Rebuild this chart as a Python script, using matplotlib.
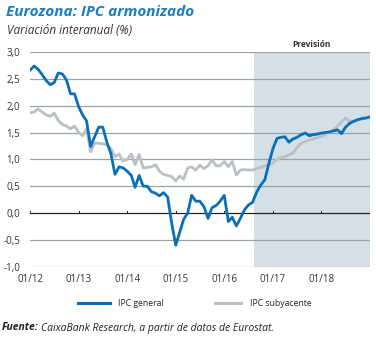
import numpy as np
import pandas as pd
import matplotlib
matplotlib.use('Agg')
import matplotlib.pyplot as plt
from matplotlib.lines import Line2D

# Monthly data, 01/2012 - 01/2019 (%, year-on-year)
ipc_general = [2.66, 2.74, 2.68, 2.58, 2.47, 2.39, 2.43, 2.61, 2.59, 2.48, 2.22, 2.22,
               1.98, 1.82, 1.72, 1.24, 1.42, 1.60, 1.60, 1.32, 1.10, 0.72, 0.86, 0.84,
               0.78, 0.70, 0.48, 0.70, 0.50, 0.50, 0.40, 0.37, 0.32, 0.38, 0.30, -0.18,
               -0.60, -0.35, -0.12, 0.00, 0.33, 0.22, 0.22, 0.12, -0.10, 0.10, 0.14, 0.22,
               0.33, -0.16, -0.08, -0.24, -0.10, 0.06, 0.15, 0.20, 0.39, 0.52, 0.62, 0.92,
               1.20, 1.39, 1.41, 1.42, 1.32, 1.38, 1.41, 1.46, 1.49, 1.44, 1.46, 1.47,
               1.49, 1.50, 1.51, 1.53, 1.55, 1.48, 1.60, 1.67, 1.71, 1.74, 1.76, 1.77,
               1.79]
ipc_subyacente = [1.87, 1.88, 1.94, 1.88, 1.83, 1.80, 1.86, 1.72, 1.65, 1.62, 1.57, 1.62,
                  1.50, 1.44, 1.57, 1.14, 1.30, 1.30, 1.29, 1.27, 1.20, 1.05, 1.10, 0.97,
                  1.00, 1.10, 0.90, 1.09, 0.84, 0.85, 0.86, 0.90, 0.78, 0.72, 0.70, 0.68,
                  0.60, 0.69, 0.63, 0.84, 0.86, 0.80, 0.89, 0.83, 0.88, 0.99, 0.88, 0.88,
                  0.96, 0.86, 0.96, 0.71, 0.80, 0.81, 0.80, 0.80, 0.83, 0.85, 0.88, 0.90,
                  0.93, 1.00, 1.03, 1.05, 1.08, 1.12, 1.22, 1.30, 1.33, 1.36, 1.38, 1.41,
                  1.43, 1.47, 1.51, 1.55, 1.62, 1.70, 1.77, 1.71, 1.71, 1.73, 1.75, 1.77,
                  1.79]
fechas = pd.date_range('2012-01-01', periods=len(ipc_general), freq='MS')
inicio_prevision = pd.Timestamp('2016-08-10')
yticks = [-1.0, -0.5, 0.0, 0.5, 1.0, 1.5, 2.0, 2.5, 3.0]
xticks = pd.date_range('2012-01-01', '2018-01-01', freq='YS')
xtick_labels = ['01/12', '01/13', '01/14', '01/15', '01/16', '01/17', '01/18']

blue = '#0b6fb8'
grey = '#b9c1c5'
text_c = '#333333'
fam = ['Open Sans', 'DejaVu Sans']

fig = plt.figure(figsize=(3.76, 3.38), dpi=100)
ax = fig.add_axes([30 / 376, 1 - 266.7 / 338, 340 / 376, 214.7 / 338])

ax.axvspan(inicio_prevision, pd.Timestamp('2019-01-01'), color='#d3e0e8', lw=0, zorder=0)
for y in yticks:
    if y != 0:
        ax.axhline(y, color='#9ca2a7', lw=0.9, zorder=1)
ax.axhline(0, color='#222222', lw=0.9, zorder=2)
for t in list(xticks) + [pd.Timestamp('2019-01-01')]:
    ax.plot([t, t], [0, 0.04], color='#222222', lw=0.7, zorder=2)

ax.plot(fechas, ipc_subyacente, color=grey, lw=2.0, zorder=3, solid_joinstyle='round')
ax.plot(fechas, ipc_general, color=blue, lw=2.0, zorder=4, solid_joinstyle='round')

ax.set_xlim(pd.Timestamp('2012-01-01'), pd.Timestamp('2019-01-01'))
ax.set_ylim(-1.0, 3.0)
for s in ax.spines.values():
    s.set_visible(False)
ax.set_yticks(yticks)
ax.set_yticklabels([f'{v:.1f}'.replace('.', ',') for v in yticks], fontsize=7, color=text_c, family=fam)
ax.set_xticks(xticks)
ax.set_xticklabels(xtick_labels, fontsize=7, color=text_c, family=fam)
ax.tick_params(length=0, pad=5)
ax.tick_params(axis='y', pad=7)

ax.text(pd.Timestamp('2017-10-20'), 3.06, 'Previsión', fontsize=6, fontweight='bold',
        color=text_c, ha='center', va='bottom', family=fam)

fig.text(6 / 376, 1 - 12 / 338, 'Eurozona: IPC armonizado', fontsize=11, fontweight='bold',
         fontstyle='italic', color='#1a7cc1', family=fam, va='center')
fig.text(7 / 376, 1 - 30 / 338, 'Variación interanual (%)', fontsize=8.5, fontstyle='italic',
         color=text_c, family=fam, va='center')

# legend drawn by hand so the sample lines sit where the original has them
ly = 1 - 303 / 338
fig.add_artist(Line2D([78 / 376, 110 / 376], [ly, ly], color=blue, lw=2.2))
fig.text(118 / 376, ly, 'IPC general', fontsize=6.2, color='#222222', family=fam, va='center')
fig.add_artist(Line2D([215 / 376, 241 / 376], [ly, ly], color=grey, lw=2.2))
fig.text(250 / 376, ly, 'IPC subyacente', fontsize=6.2, color='#222222', family=fam, va='center')

fy = 1 - 328 / 338
fuente = fig.text(2 / 376, fy, 'Fuente:', fontsize=7.5, fontweight='bold', fontstyle='italic',
                  color='#222222', family=fam, va='center')
fig.canvas.draw()
x1 = fuente.get_window_extent().x1 / fig.bbox.width
fig.text(x1 + 2 / 376, fy, 'CaixaBank Research, a partir de datos de Eurostat.', fontsize=7.5,
         fontstyle='italic', color='#222222', family=fam, va='center')

fig.savefig('out.png', dpi=100)
